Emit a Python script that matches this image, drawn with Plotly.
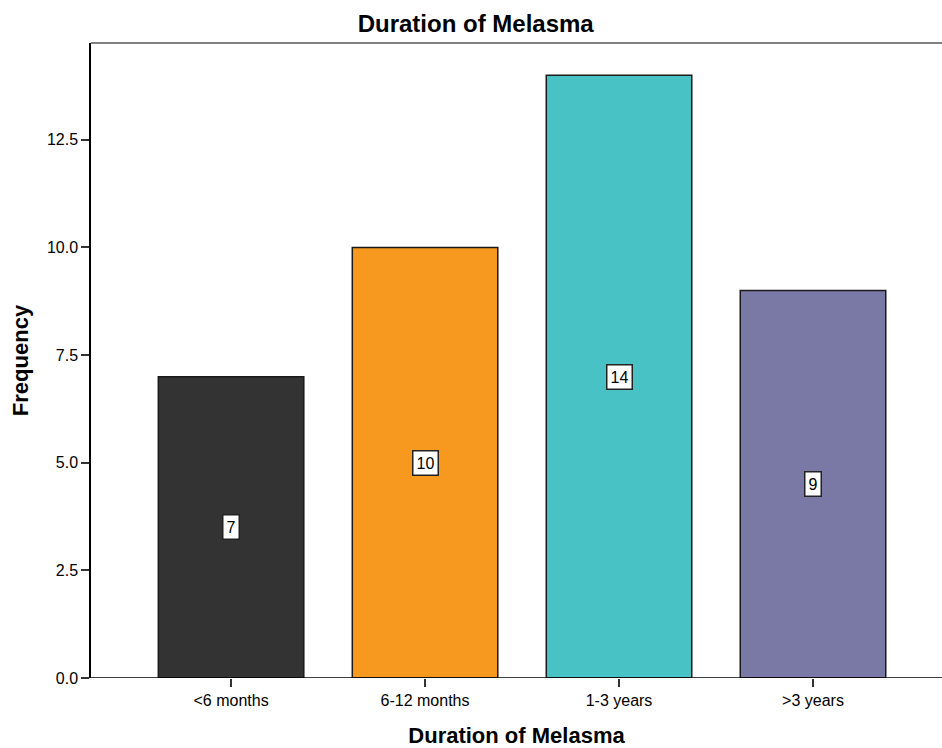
import plotly.graph_objects as go

categories = ["<6 months", "6-12 months", "1-3 years", ">3 years"]
frequencies = [7, 10, 14, 9]
bar_colors = ["#333333", "#F7981F", "#48C2C5", "#7A79A6"]
y_ticks = [0.0, 2.5, 5.0, 7.5, 10.0, 12.5]

FONT = "Liberation Sans, Arial, sans-serif"

fig = go.Figure()
fig.add_trace(go.Bar(
    x=categories,
    y=frequencies,
    width=0.75,
    marker=dict(color=bar_colors, line=dict(color="#1a1a1a", width=1.5)),
    hoverinfo="x+y",
))

# value labels in boxes at mid-height of each bar
for cat, val in zip(categories, frequencies):
    fig.add_annotation(
        x=cat, y=val / 2, text=str(val), showarrow=False,
        font=dict(family=FONT, size=16, color="#000000"),
        bgcolor="#ffffff", bordercolor="#222222", borderwidth=1.5, borderpad=3,
    )

# upper frame line of the plot area
fig.add_shape(type="line", xref="paper", yref="paper", x0=0, x1=1, y0=1, y1=1,
              line=dict(color="#808080", width=2))

fig.update_layout(
    width=942, height=748,
    margin=dict(l=91, r=0, t=43, b=70),
    paper_bgcolor="#ffffff", plot_bgcolor="#ffffff",
    showlegend=False,
    title=dict(text="<b>Duration of Melasma</b>", x=0.505, xanchor="center",
               y=0.968, yanchor="middle",
               font=dict(family=FONT, size=24, color="#000000")),
    xaxis=dict(
        range=[-0.722, 3.665], showgrid=False, zeroline=False,
        showline=False, ticks="outside", ticklen=8, tickwidth=1.5, tickcolor="#333333",
        tickfont=dict(family=FONT, size=16, color="#000000"),
        title=dict(text="<b>Duration of Melasma</b>", standoff=20,
                   font=dict(family=FONT, size=22, color="#000000")),
    ),
    yaxis=dict(
        range=[0, 14.75], tickvals=y_ticks, ticktext=[f"{v:.1f}" for v in y_ticks],
        showgrid=False, zeroline=False,
        showline=True, linecolor="#000000", linewidth=1.5,
        ticks="outside", ticklen=8, tickwidth=1.5, tickcolor="#333333",
        tickfont=dict(family=FONT, size=16, color="#000000"),
        title=dict(text="<b>Frequency</b>", standoff=12,
                   font=dict(family=FONT, size=22, color="#000000")),
    ),
)

# baseline drawn along the bottom of the plot area
fig.add_shape(type="line", xref="paper", yref="y", x0=0, x1=1, y0=0, y1=0,
              line=dict(color="#000000", width=1.5))

fig.write_html("out.html")
